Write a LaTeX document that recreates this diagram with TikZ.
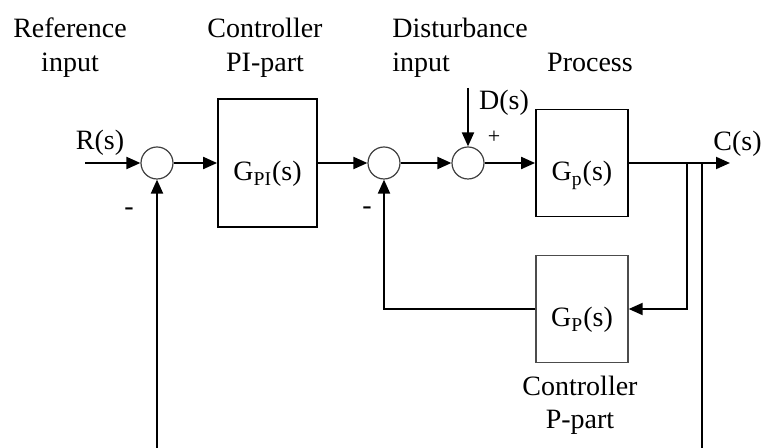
\documentclass[tikz,border=0pt]{standalone}
\usepackage{fontspec}
\setmainfont{Liberation Serif}
\usetikzlibrary{arrows.meta}
\begin{document}
\begin{tikzpicture}[x=0.5pt,y=-0.5pt,
  every node/.style={font=\fontsize{14}{17}\selectfont, inner sep=0pt},
  blk/.style={draw, line width=0.9pt, text height=18pt, text depth=0pt},
  sumc/.style={draw=black!75, line width=0.6pt, circle, minimum size=16pt},
  conn/.style={line width=1pt, -{Triangle[length=7pt,width=6pt]}},
  wire/.style={line width=1pt},
  lbl/.style={align=center, anchor=base}]
\useasboundingbox (0,0) rectangle (761,448);
% summing junctions
\node[sumc] (s1) at (157,163) {};
\node[sumc] (s2) at (384,163) {};
\node[sumc] (s3) at (468,163) {};
% blocks
\node[blk, minimum width=49.5pt, minimum height=64pt] (pi) at (267.5,163) {G\textsubscript{PI}(s)};
\node[blk, minimum width=46pt, minimum height=53.5pt] (gp) at (582,163) {G\textsubscript{p}(s)};
\node[blk, draw=black!70, line width=0.7pt, minimum width=46pt, minimum height=53.5pt] (gc) at (582,309) {G\textsubscript{P}(s)};
% labels (base anchor = baseline of last line)
\node[lbl] (lref) at (70,72) {Reference\\input};
\node[lbl] (lpi) at (265,72) {Controller\\PI-part};
\node[align=left, anchor=base west] (ldist) at (392,72) {Disturbance\\input};
\node[anchor=base] (lproc) at (590,72) {Process};
\node[lbl, font=\fontsize{14}{16.5}\selectfont] (lcp) at (580,429) {Controller\\P-part};
\node[anchor=base] (lr) at (100,150) {R(s)};
\node[anchor=base] (ld) at (504,110) {D(s)};
\node[anchor=base west] (lc) at (713,151) {C(s)};
\node[font=\fontsize{11}{12}\selectfont] (plus) at (494,137) {+};
\node (m1) at (129,212) {-};
\node (m2) at (367,211) {-};
% free ends
\coordinate (rin) at (85,163);
\coordinate (dtop) at (468,88);
\coordinate (cout) at (730,163);
\coordinate (b1) at (687,163);
\coordinate (b2) at (702,163);
\coordinate (b2d) at (702,448);
\coordinate (bot1) at (157,448);
% connectors
\draw[conn] (rin) -- (s1);
\draw[conn] (s1) -- (pi);
\draw[conn] (pi) -- (s2);
\draw[conn] (s2) -- (s3);
\draw[conn] (dtop) -- (s3);
\draw[conn] (s3) -- (gp);
\draw[conn] (gp) -- (cout);
\draw[conn] (b1) |- (gc.east);
\draw[wire] (b2) -- (b2d);
\draw[conn] (gc.west) -| (s2.south);
\draw[conn] (bot1) -- (s1.south);
\end{tikzpicture}
\end{document}
